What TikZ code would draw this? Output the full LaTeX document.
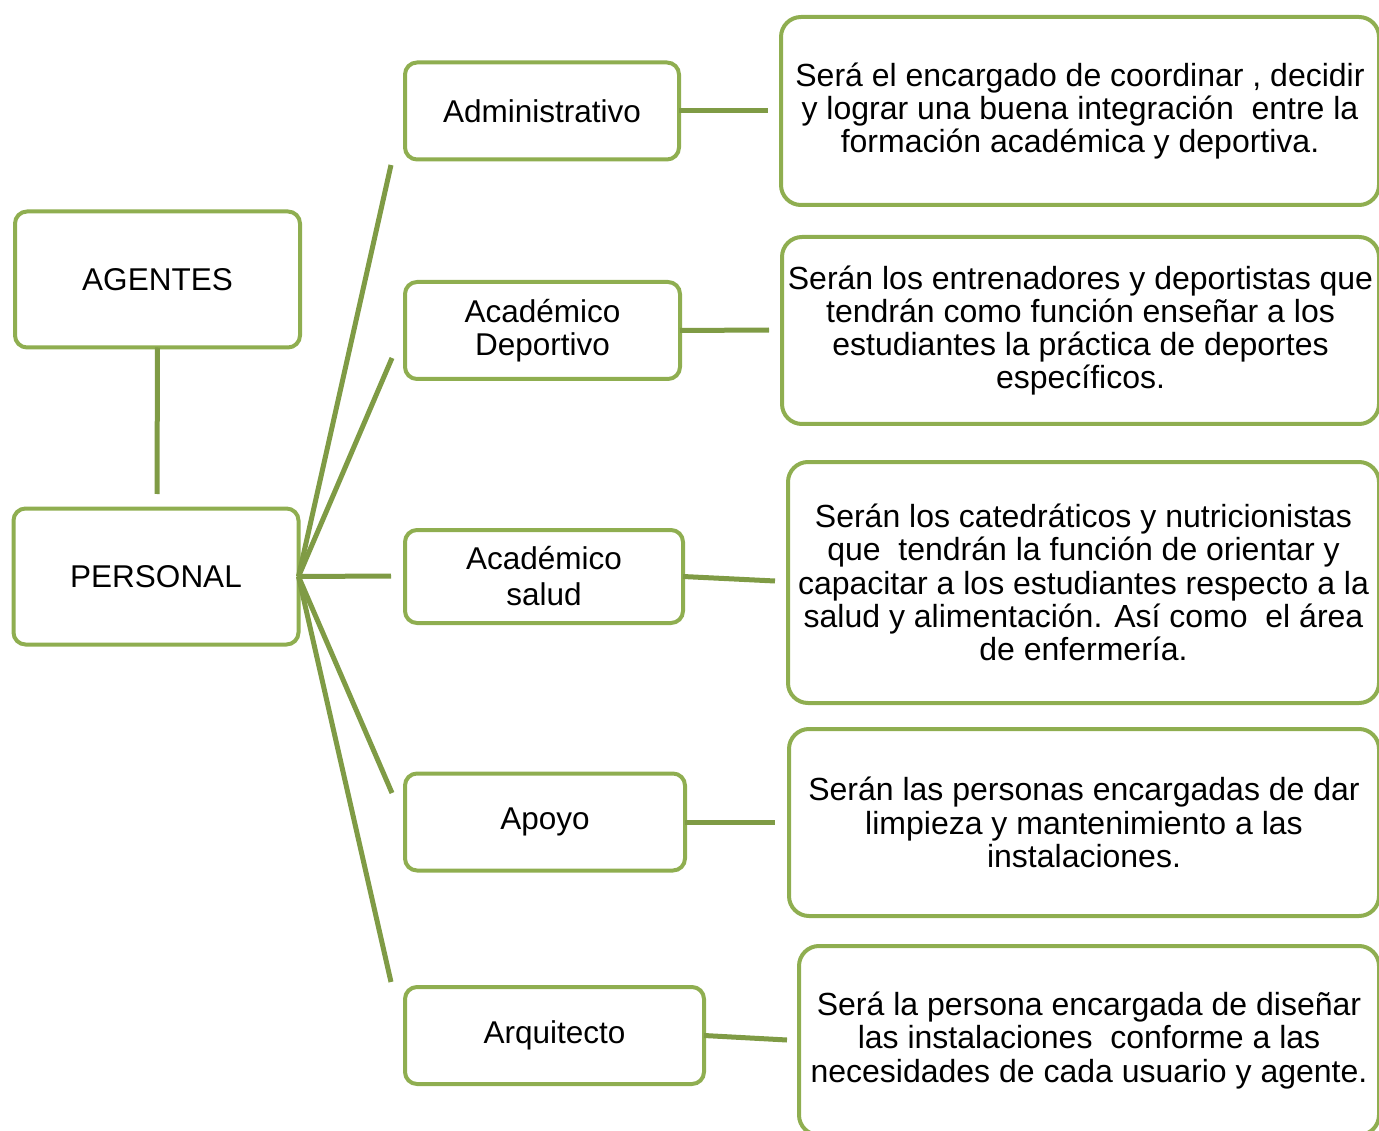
\documentclass[tikz,border=0pt]{standalone}
\usepackage{fontspec}
\setmainfont{Liberation Sans}
\usepackage{tikz}
\usetikzlibrary{positioning}
\usepackage{xcolor}
\definecolor{cFrame}{RGB}{143,174,80}
\definecolor{cLink}{RGB}{127,155,69}
\tikzset{
  basebox/.style={rectangle,rounded corners=12pt,draw=cFrame,line width=4pt,
                  align=center,inner sep=0pt,outer sep=0pt,
                  font=\fontsize{31.5}{33}\selectfont},
  rootbox/.style={basebox,minimum width=285pt,minimum height=136pt},
  midbox/.style={basebox,minimum height=97pt},
  descbox/.style={basebox,rounded corners=20pt,font=\fontsize{32}{33.3}\selectfont},
  link/.style={draw=cLink,line width=5pt}
}
\begin{document}
\begin{tikzpicture}[x=1pt,y=-1pt]
  \useasboundingbox (0,0) rectangle (1379,1131);
  \clip (0,0) rectangle (1379,1131);

  % Left column
  \node[rootbox] (agen) at (157.5,279.5) {AGENTES};
  \node[rootbox] (pers) at (156,576.5) {PERSONAL};
  \coordinate (agen_end) at (157,494);

  % Middle column
  \node[midbox,minimum width=274pt] (adm) at (542,111) {Administrativo};
  \node[midbox,minimum width=275pt] (dep) at (542.5,330.5) {Académico\\Deportivo};
  \node[midbox,minimum width=278pt,minimum height=93pt,
        font=\fontsize{31.5}{36}\selectfont] (sal) at (544,576.5) {Académico\\salud};
  \node[midbox,minimum width=280pt] (apo) at (545,822) {Apoyo};
  \node[midbox,minimum width=299pt] (arq) at (554.5,1035.5) {Arquitecto};

  % Right column
  \node[descbox,minimum width=598pt,minimum height=188pt] (d_adm) at (1080,111)
      {Será el encargado de coordinar , decidir\\
       y lograr una buena integración\ \ entre la\\
       formación académica y deportiva.};
  \node[descbox,minimum width=597pt,minimum height=187pt] (d_dep) at (1080.5,330.5)
      {Serán los entrenadores y deportistas que\\
       tendrán como función enseñar a los\\
       estudiantes la práctica de deportes\\
       específicos.};
  \node[descbox,minimum width=591pt,minimum height=241pt] (d_sal) at (1083.5,582.5)
      {Serán los catedráticos y nutricionistas\\
       que\ \ tendrán la función de orientar y\\
       capacitar a los estudiantes respecto a la\\
       salud y alimentación. Así como\ \ el área\\
       de enfermería.};
  \node[descbox,minimum width=590pt,minimum height=187pt] (d_apo) at (1084,822.5)
      {Serán las personas encargadas de dar\\
       limpieza y mantenimiento a las\\
       instalaciones.};
  \node[descbox,minimum width=580pt,minimum height=189pt] (d_arq) at (1089,1040.5)
      {Será la persona encargada de diseñar\\
       las instalaciones\ \ conforme a las\\
       necesidades de cada usuario y agente.};

  % Free ends of the connectors
  \coordinate (s_adm) at (391,165);
  \coordinate (s_dep) at (392,358);
  \coordinate (s_sal) at (391,576);
  \coordinate (s_apo) at (392,793);
  \coordinate (s_arq) at (391,982);
  \coordinate (e_adm) at (768,111);
  \coordinate (e_dep) at (769,330);
  \coordinate (e_sal) at (775,581);
  \coordinate (e_apo) at (775,822);
  \coordinate (e_arq) at (787,1040);

  \draw[link] (agen.south) -- (agen_end);
  \foreach \k in {adm,dep,sal,apo,arq}
    \draw[link] (pers.east) -- (s_\k);
  \foreach \k in {adm,dep,sal,apo,arq}
    \draw[link] (\k.east) -- (e_\k);

\end{tikzpicture}
\end{document}
